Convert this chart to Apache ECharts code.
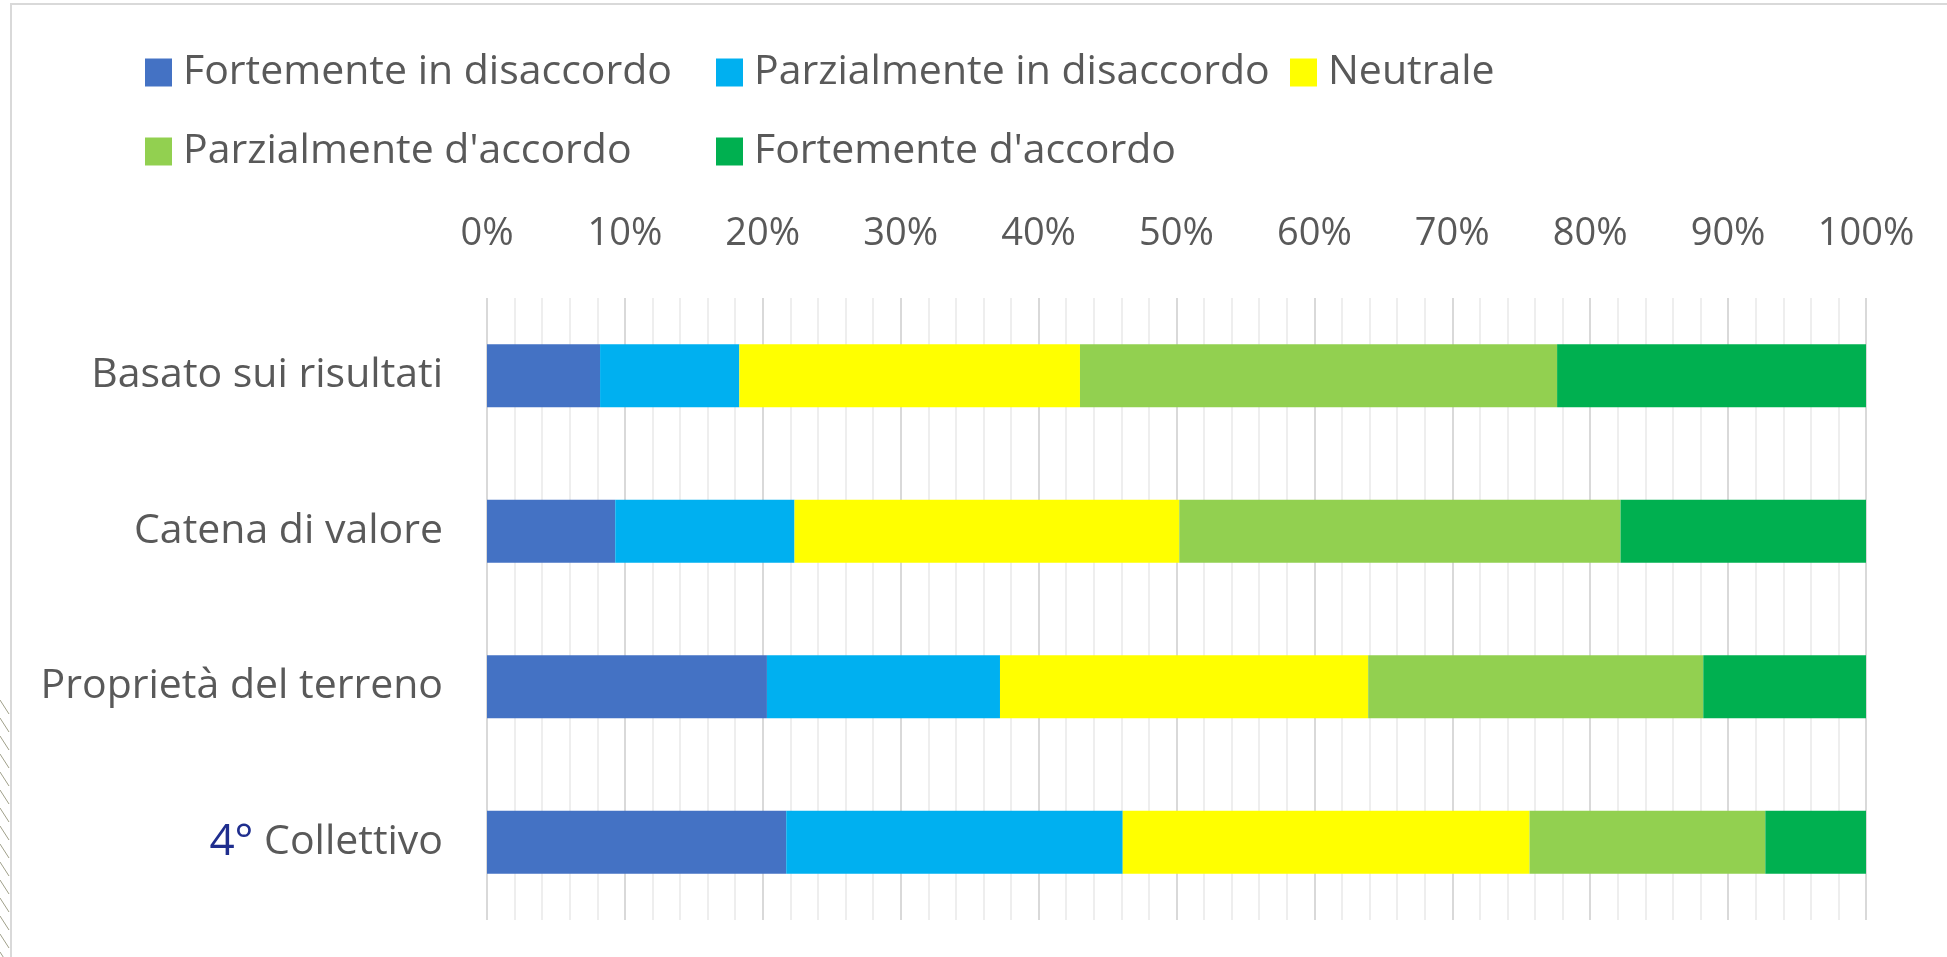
<!DOCTYPE html>
<html>
<head>
<meta charset="utf-8">
<script src="https://cdn.jsdelivr.net/npm/echarts@6/dist/echarts.min.js"></script>
<style>
  html, body { margin: 0; padding: 0; background: #fff; }
  #main { width: 1947px; height: 957px; }
</style>
</head>
<body>
<div id="main"></div>
<script>
// categorie (dall'alto in basso)
var categories = ['Basato sui risultati', 'Catena di valore', 'Proprietà del terreno', '4° Collettivo'];
var seriesNames = ['Fortemente in disaccordo', 'Parzialmente in disaccordo', 'Neutrale', "Parzialmente d'accordo", "Fortemente d'accordo"];
var colors = ['#4472C4', '#00B0F0', '#FFFF00', '#92D050', '#00B050'];

// percentuali
var fortDisaccordo = [8.2, 9.3, 20.3, 21.7];
var parzDisaccordo = [10.1, 13.0, 16.9, 24.4];
var neutrale = [24.7, 27.9, 26.7, 29.5];
var parzAccordo = [34.6, 32.0, 24.3, 17.1];
var fortAccordo = [22.4, 17.8, 11.8, 7.3];

var tickValues = [0, 10, 20, 30, 40, 50, 60, 70, 80, 90, 100];

var allData = [fortDisaccordo, parzDisaccordo, neutrale, parzAccordo, fortAccordo];
var font = '"Open Sans", "Noto Sans", sans-serif';
var grey = '#595959';

var myChart = echarts.init(document.getElementById('main'));

// legenda a griglia come in Excel: una legenda per voce
var legendPos = [[145, 52], [716, 52], [1290, 52], [145, 131], [716, 131]];
var legends = [];
for (var i = 0; i < seriesNames.length; i++) {
    legends.push({
        data: [seriesNames[i]],
        left: legendPos[i][0],
        top: legendPos[i][1],
        padding: 0,
        itemWidth: 27,
        itemHeight: 28,
        icon: 'rect',
        selectedMode: false,
        textStyle: {fontFamily: font, fontSize: 41, color: grey, padding: [0, 0, 0, 6]}
    });
}

var series = [];
for (var j = 0; j < seriesNames.length; j++) {
    series.push({
        name: seriesNames[j],
        type: 'bar',
        stack: 'tot',
        barWidth: 63,
        itemStyle: {color: colors[j]},
        emphasis: {disabled: true},
        data: allData[j]
    });
}

// cornice e tratteggio decorativo a sinistra
var deco = [
    {type: 'line', shape: {x1: 10, y1: 4, x2: 1947, y2: 4}, style: {stroke: '#d9d9d9', lineWidth: 2}},
    {type: 'line', shape: {x1: 11, y1: 4, x2: 11, y2: 957}, style: {stroke: '#d9d9d9', lineWidth: 2}}
];
for (var y = 700; y < 957; y += 18) {
    deco.push({type: 'line', shape: {x1: 0, y1: y, x2: 9, y2: y + 14}, style: {stroke: '#a0a08a', lineWidth: 1}});
}

var option = {
    animation: false,
    color: colors,
    legend: legends,
    graphic: deco,
    grid: {left: 487, right: 81, top: 298, bottom: 37},
    xAxis: {
        type: 'value',
        position: 'top',
        min: tickValues[0],
        max: tickValues[tickValues.length - 1],
        interval: 10,
        axisLine: {show: false},
        axisTick: {show: false},
        axisLabel: {formatter: '{value}%', fontFamily: font, fontSize: 38, color: grey, margin: 45},
        splitLine: {show: true, lineStyle: {color: '#d9d9d9', width: 2}},
        minorTick: {show: false, splitNumber: 5},
        minorSplitLine: {show: true, lineStyle: {color: '#eeeeee', width: 2}}
    },
    yAxis: {
        type: 'category',
        inverse: true,
        data: categories,
        axisLine: {show: false},
        axisTick: {show: false},
        axisLabel: {
            fontFamily: font, fontSize: 41, color: grey, margin: 44,
            formatter: function (v) {
                if (v.indexOf('4°') === 0) {
                    return '{n|4°} {c|' + v.slice(3) + '}';
                }
                return v;
            },
            rich: {
                n: {fontFamily: font, fontSize: 44, color: '#1F2E8E'},
                c: {fontFamily: font, fontSize: 41, color: grey}
            }
        }
    },
    series: series
};

if (option && typeof option === "object") {
    myChart.setOption(option, true);
}
</script>
</body>
</html>
